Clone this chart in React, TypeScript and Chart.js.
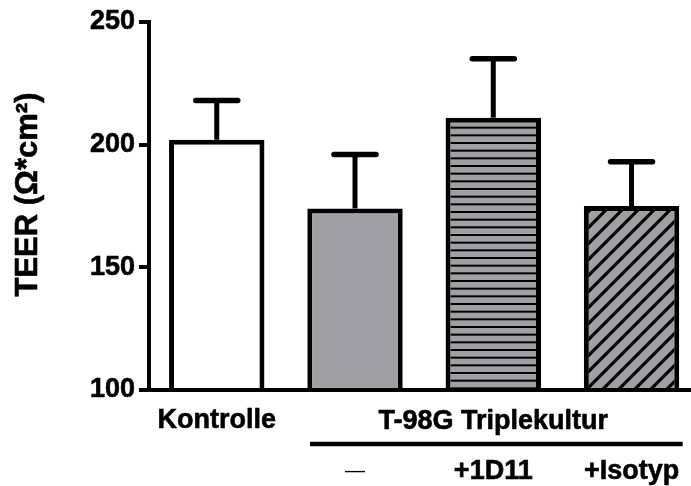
import React, { useEffect, useRef } from 'react';
import { Chart, registerables } from 'chart.js';

Chart.register(...registerables);

// ---- data ----
const categoryLabels: string[][] = [['Kontrolle', ''], ['', '—'], ['', '+1D11'], ['', '+Isotyp']];
const groupLabel = 'T-98G Triplekultur';
const meanValues = [202, 174, 211, 175];
const errorTops = [218, 196, 235, 193];
const yTicks = [100, 150, 200, 250];
const yTitle = 'TEER (Ω*cm²)';

const FONT = '"Liberation Sans", Arial, Helvetica, sans-serif';
const GRAY = '#a0a0a4';

function stripePattern(): CanvasPattern | string {
  const c = document.createElement('canvas');
  c.width = 8;
  c.height = 23;
  const g = c.getContext('2d');
  if (!g) return GRAY;
  g.fillStyle = GRAY;
  g.fillRect(0, 0, 8, 23);
  g.fillStyle = '#000';
  for (let k = 0; k < 3; k++) g.fillRect(0, 4 + (k * 23) / 3, 8, 2);
  return g.createPattern(c, 'repeat') || GRAY;
}

function hatchPattern(): CanvasPattern | string {
  const s = 16;
  const c = document.createElement('canvas');
  c.width = s;
  c.height = s;
  const g = c.getContext('2d');
  if (!g) return GRAY;
  g.fillStyle = GRAY;
  g.fillRect(0, 0, s, s);
  g.strokeStyle = '#000';
  g.lineWidth = 3.2;
  for (const o of [-s, 0, s]) {
    g.beginPath();
    g.moveTo(o - 3, s + 3);
    g.lineTo(o + s + 3, -3);
    g.stroke();
  }
  return g.createPattern(c, 'repeat') || GRAY;
}

const annotPlugin = {
  id: 'annot',
  afterDatasetsDraw(chart: any) {
    const ctx = chart.ctx as CanvasRenderingContext2D;
    const meta = chart.getDatasetMeta(0);
    const ys = chart.scales.y;
    ctx.save();
    ctx.strokeStyle = '#000';
    meta.data.forEach((bar: any, i: number) => {
      const x = bar.x;
      const yb = bar.y;
      const yt = ys.getPixelForValue(errorTops[i]);
      ctx.lineWidth = 5;
      ctx.lineCap = 'butt';
      ctx.beginPath();
      ctx.moveTo(x, yb);
      ctx.lineTo(x, yt);
      ctx.stroke();
      ctx.lineWidth = 5.5;
      ctx.lineCap = 'round';
      ctx.beginPath();
      ctx.moveTo(x - 21, yt);
      ctx.lineTo(x + 21, yt);
      ctx.stroke();
    });
    ctx.restore();
  },
  afterDraw(chart: any) {
    const ctx = chart.ctx as CanvasRenderingContext2D;
    const xs = chart.scales.x;
    const area = chart.chartArea;
    ctx.save();
    ctx.fillStyle = '#000';
    ctx.strokeStyle = '#000';
    ctx.lineJoin = 'round';
    // group label
    ctx.font = `bold 27px ${FONT}`;
    ctx.textAlign = 'center';
    ctx.textBaseline = 'middle';
    const gx = (xs.getPixelForValue(1) + xs.getPixelForValue(3)) / 2;
    ctx.lineWidth = 0.6;
    ctx.strokeText(groupLabel, gx, area.bottom + 32);
    ctx.fillText(groupLabel, gx, area.bottom + 32);
    ctx.lineWidth = 4.5;
    ctx.lineCap = 'butt';
    ctx.beginPath();
    ctx.moveTo(xs.getPixelForValue(0.675), area.bottom + 54);
    ctx.lineTo(xs.getPixelForValue(3.37), area.bottom + 54);
    ctx.stroke();
    // y title
    ctx.translate(28.5, 194.5);
    ctx.rotate(-Math.PI / 2);
    ctx.font = `bold 31px ${FONT}`;
    ctx.lineWidth = 0.6;
    ctx.strokeText(yTitle, 0, 0);
    ctx.fillText(yTitle, 0, 0);
    ctx.restore();
  },
};

export default function App() {
  const ref = useRef<HTMLCanvasElement | null>(null);

  useEffect(() => {
    if (!ref.current) return;
    const fills = ['#ffffff', GRAY, stripePattern(), hatchPattern()];
    const chart = new Chart(ref.current, {
      type: 'bar',
      data: {
        datasets: [
          {
            data: meanValues.map((v, i) => ({ x: i, y: v })) as any,
            backgroundColor: fills as any,
            borderColor: '#000',
            borderWidth: 5,
            borderSkipped: 'start',
            categoryPercentage: 0.69,
            barPercentage: 1,
            base: 100,
          },
        ],
      },
      options: {
        animation: false,
        responsive: false,
        layout: { padding: { top: 22, left: 0, right: 0, bottom: 0 } },
        plugins: { legend: { display: false }, tooltip: { enabled: false } },
        scales: {
          x: {
            type: 'linear',
            offset: false,
            min: -0.49,
            max: 3.43,
            afterBuildTicks: (s: any) => {
              s.ticks = categoryLabels.map((_, i) => ({ value: i }));
            },
            afterFit: (s: any) => {
              s.height = 96;
            },
            grid: { display: false, drawTicks: false, offset: false },
            border: { display: true, width: 4, color: '#000' },
            ticks: {
              autoSkip: false,
              maxRotation: 0,
              minRotation: 0,
              padding: 5,
              color: '#000',
              textStrokeColor: '#000',
              textStrokeWidth: (c: any) => (c.index === 1 ? 0 : 0.6),
              callback: (_v: any, i: number) => categoryLabels[i] ?? '',
              font: (c: any) =>
                c.index === 1
                  ? { family: FONT, size: 20, weight: 'normal', lineHeight: '51px' }
                  : { family: FONT, size: 27, weight: 'bold', lineHeight: '51px' },
            } as any,
          },
          y: {
            type: 'linear',
            min: 100,
            max: 250,
            afterBuildTicks: (s: any) => {
              s.ticks = yTicks.map((v) => ({ value: v }));
            },
            afterFit: (s: any) => {
              s.width = 149;
            },
            grid: {
              display: true,
              drawOnChartArea: false,
              drawTicks: true,
              tickLength: 10,
              lineWidth: 4,
              color: '#000',
            },
            border: { display: true, width: 4, color: '#000' },
            ticks: {
              padding: 4,
              color: '#000',
              textStrokeColor: '#000',
              textStrokeWidth: 0.6,
              font: { family: FONT, size: 27, weight: 'bold' },
            } as any,
          },
        },
      },
      plugins: [annotPlugin],
    });
    return () => chart.destroy();
  }, []);

  return (
    <div style={{ position: 'fixed', left: 0, top: 0, width: 691, height: 486, background: '#fff' }}>
      <canvas ref={ref} width={691} height={486} style={{ display: 'block' }} />
    </div>
  );
}
